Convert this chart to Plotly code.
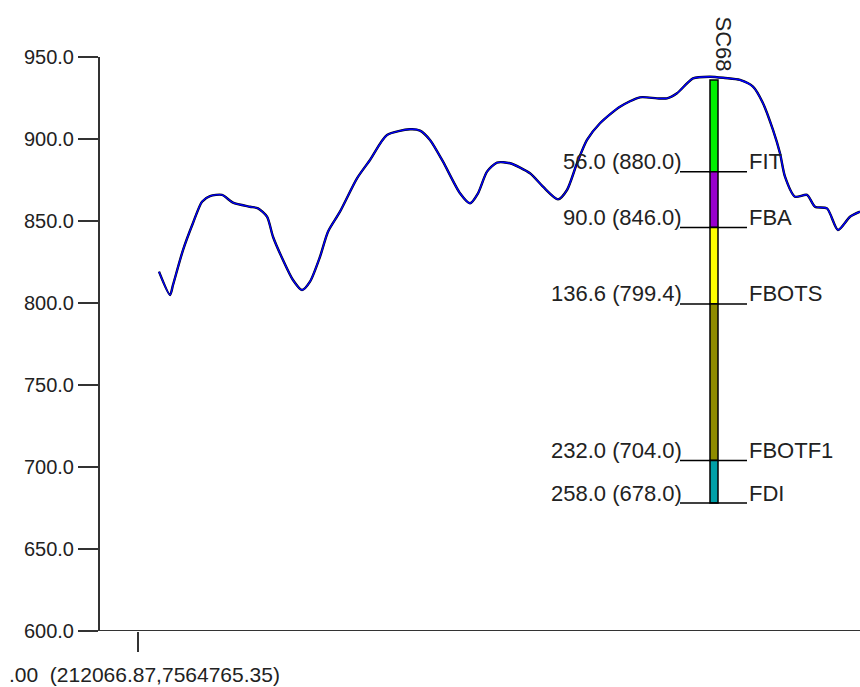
import plotly.graph_objects as go

# Ground profile along the section line (distance, elevation)
profile_dist = [21, 32, 35, 45, 55, 64, 72, 84, 95, 112, 120, 129, 135, 145, 155, 164,
                172, 182, 190, 202, 219, 232, 249, 272, 282, 292, 305, 322, 332, 340,
                349, 359, 372, 392, 405, 420, 429, 439, 449, 462, 482, 502, 519, 529,
                539, 555, 572, 587, 602, 615, 625, 635, 642, 647, 657, 669, 677, 689,
                700, 712, 722]
profile_elev = [819.1, 804.9, 811.0, 832.3, 848.8, 861.8, 865.2, 865.9, 861.2, 858.7,
                857.7, 852.6, 840.4, 826.2, 814.0, 807.9, 813.0, 828.2, 843.5, 855.7,
                876.0, 887.2, 902.4, 905.9, 905.1, 899.4, 886.2, 866.9, 860.8, 866.9,
                880.1, 885.6, 885.2, 879.1, 870.9, 863.2, 868.9, 885.2, 899.4, 909.6,
                919.7, 925.4, 924.8, 924.8, 927.9, 937.0, 938.0, 937.2, 936.0, 931.9,
                921.8, 905.5, 891.3, 877.0, 864.8, 865.9, 858.7, 857.7, 844.5, 852.6,
                855.7]

# Well SC68
well_name = "SC68"
well_x = 576
well_surface = 936.0
unit_names = ["FIT", "FBA", "FBOTS", "FBOTF1", "FDI"]
unit_depths = [56.0, 90.0, 136.6, 232.0, 258.0]
unit_colors = ["#00f000", "#9900cc", "#ffff00", "#8f8c00", "#00a0a8"]

# Axis ticks
y_ticks = [600, 650, 700, 750, 800, 850, 900, 950]
x_tick_vals = [0]
x_tick_text = [".00\u00a0\u00a0(212066.87,7564765.35)"]

FONT = "Arial, Liberation Sans, sans-serif"
INK = "#222222"

fig = go.Figure()

# profile: dark underlay with blue line on top
fig.add_trace(go.Scatter(x=profile_dist, y=profile_elev, mode="lines",
                         line=dict(color="#000000", width=2.4, shape="spline", smoothing=0.7),
                         hoverinfo="skip", showlegend=False))
fig.add_trace(go.Scatter(x=profile_dist, y=profile_elev, mode="lines",
                         line=dict(color="#0000ff", width=1.4, shape="spline", smoothing=0.7),
                         showlegend=False))

half_w = 4
tick_l = 34
tick_r = 33
top = well_surface
for name, depth, color in zip(unit_names, unit_depths, unit_colors):
    bottom = well_surface - depth
    fig.add_shape(type="rect", xref="x", yref="y",
                  x0=well_x - half_w, x1=well_x + half_w, y0=bottom, y1=top,
                  fillcolor=color, line=dict(color="#000000", width=1.5), layer="above")
    fig.add_shape(type="line", xref="x", yref="y",
                  x0=well_x - tick_l, x1=well_x + tick_r, y0=bottom, y1=bottom,
                  line=dict(color="#000000", width=1.5), layer="above")
    fig.add_annotation(x=well_x - tick_l, y=bottom, xref="x", yref="y",
                       text=f"{depth:.1f} ({bottom:.1f})", showarrow=False,
                       xanchor="right", yanchor="middle", xshift=4, yshift=10,
                       font=dict(family=FONT, size=22, color=INK))
    fig.add_annotation(x=well_x + tick_r, y=bottom, xref="x", yref="y",
                       text=name, showarrow=False,
                       xanchor="left", yanchor="middle", xshift=0, yshift=10,
                       font=dict(family=FONT, size=22, color=INK))
    top = bottom

fig.add_annotation(x=well_x, y=well_surface, xref="x", yref="y", text=well_name,
                   showarrow=False, textangle=90, xanchor="center", yanchor="bottom",
                   xshift=10, yshift=7, font=dict(family=FONT, size=22, color=INK))

# label under the section's start tick
for xv, label in zip(x_tick_vals, x_tick_text):
    fig.add_annotation(x=xv, y=0, xref="x", yref="paper", text=label,
                       showarrow=False, xanchor="center", yanchor="middle",
                       xshift=6, yshift=-43,
                       font=dict(family=FONT, size=21, color=INK))

# axis lines drawn explicitly so the vertical one stops at the top tick
fig.add_shape(type="line", xref="paper", yref="y", x0=0, x1=0, y0=600, y1=950,
              line=dict(color="#333333", width=2))
fig.add_shape(type="line", xref="paper", yref="y", x0=0, x1=1, y0=600, y1=600,
              line=dict(color="#333333", width=2))

fig.update_layout(
    width=860, height=687,
    margin=dict(l=99, r=0, t=0, b=56, pad=0, autoexpand=False),
    paper_bgcolor="white", plot_bgcolor="white",
    showlegend=False,
    xaxis=dict(range=[-39, 722], showgrid=False, zeroline=False, showline=False,
               automargin=False, showticklabels=False,
               tickmode="array", tickvals=x_tick_vals,
               ticks="outside", ticklen=20, tickwidth=2, tickcolor="#333333"),
    yaxis=dict(range=[600, 600 + 631 / 1.64], showgrid=False, zeroline=False,
               showline=False, automargin=False,
               tickmode="array", tickvals=y_ticks,
               ticktext=[f"{v:.1f}" for v in y_ticks],
               ticks="outside", ticklen=20, tickwidth=2, tickcolor="#333333",
               tickfont=dict(family=FONT, size=20, color=INK)),
)

fig.write_html("out.html")
